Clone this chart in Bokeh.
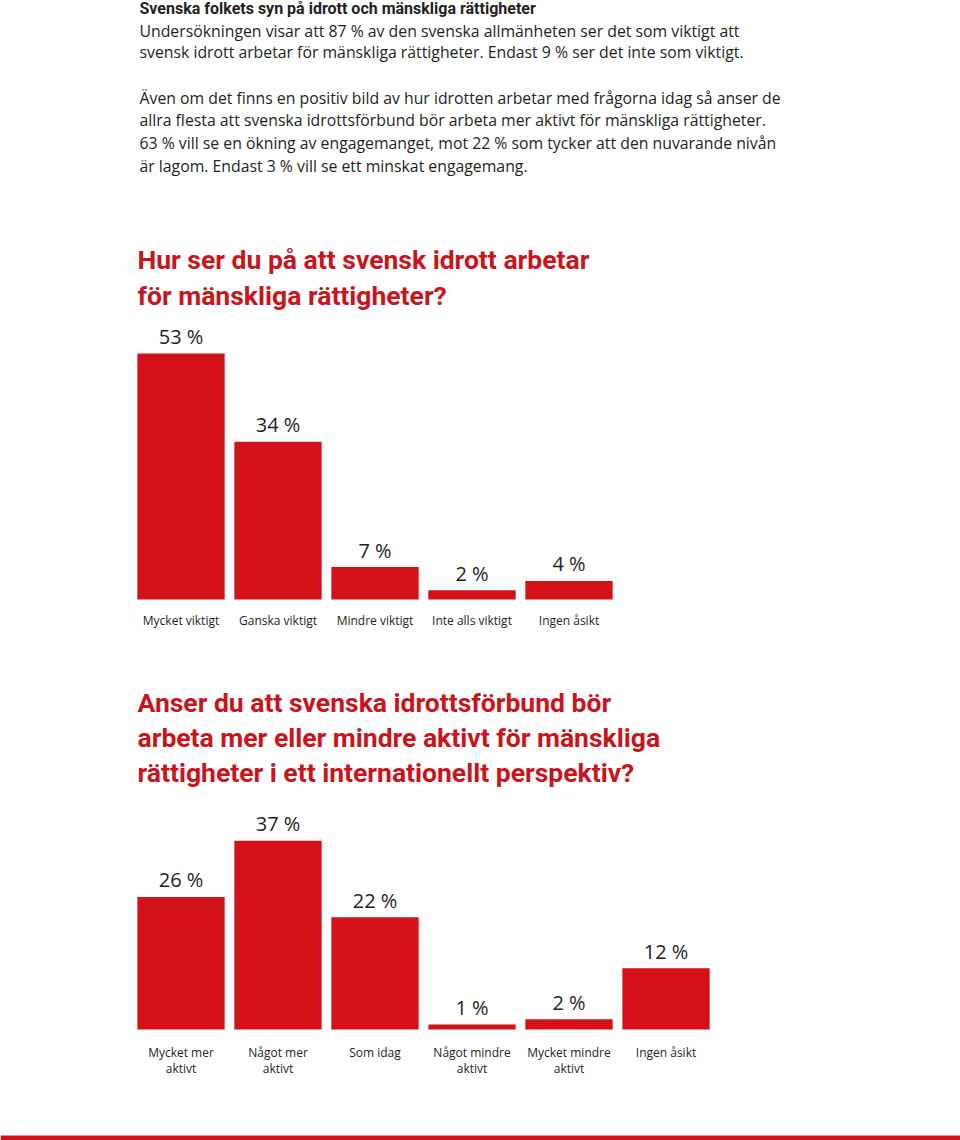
from bokeh.plotting import figure
from bokeh.models import Range1d
from bokeh.core.properties import value
from bokeh.embed import file_html
from bokeh.resources import INLINE

# ---------------- data ----------------
header_title = "Svenska folkets syn på idrott och mänskliga rättigheter"
para1 = [
    "Undersökningen visar att 87 % av den svenska allmänheten ser det som viktigt att",
    "svensk idrott arbetar för mänskliga rättigheter. Endast 9 % ser det inte som viktigt.",
]
para2 = [
    "Även om det finns en positiv bild av hur idrotten arbetar med frågorna idag så anser de",
    "allra flesta att svenska idrottsförbund bör arbeta mer aktivt för mänskliga rättigheter.",
    "63 % vill se en ökning av engagemanget, mot 22 % som tycker att den nuvarande nivån",
    "är lagom. Endast 3 % vill se ett minskat engagemang.",
]

q1_title = ["Hur ser du på att svensk idrott arbetar", "för mänskliga rättigheter?"]
q1_categories = ["Mycket viktigt", "Ganska viktigt", "Mindre viktigt", "Inte alls viktigt", "Ingen åsikt"]
q1_values = [53, 34, 7, 2, 4]

q2_title = ["Anser du att svenska idrottsförbund bör",
            "arbeta mer eller mindre aktivt för mänskliga",
            "rättigheter i ett internationellt perspektiv?"]
q2_categories = ["Mycket mer\naktivt", "Något mer\naktivt", "Som idag",
                 "Något mindre\naktivt", "Mycket mindre\naktivt", "Ingen åsikt"]
q2_values = [26, 37, 22, 1, 2, 12]

# ---------------- styling ----------------
RED = "#d31118"
TITLE_RED = "#c9141c"
INK = "#231f20"
FONT = value("Open Sans")
BOLD_FONT = value("Roboto")

W, H = 960, 1140
# page coordinates for text layout: x 0..960, y 0..1140 (downwards)
p = figure(width=W, height=H, output_backend="svg", toolbar_location=None,
           x_range=Range1d(0, W), y_range=Range1d(H, 0),
           x_axis_location=None, y_axis_location=None,
           min_border=0, outline_line_color=None, title=None)
p.grid.visible = False

# category index range (97 px per category, first bar centred at x=180.5)
idx_start = -180.5 / 97.0
p.extra_x_ranges = {"idx": Range1d(idx_start, idx_start + W / 97.0)}
# value ranges for the two charts (percent)
s1, base1 = 4.64, 599
s2, base2 = 5.1, 1029
p.extra_y_ranges = {
    "c1": Range1d(-(H - base1) / s1, base1 / s1),
    "c2": Range1d(-(H - base2) / s2, base2 / s2),
}

# ---------------- header text ----------------
p.text(x=[139], y=[8], text=[header_title], text_font=BOLD_FONT, text_font_style="bold",
       text_font_size="16px", text_color=INK, text_baseline="alphabetic")
p.text(x=[139] * len(para1), y=[30, 51.5], text=para1, text_font=FONT,
       text_font_size="15.8px", text_color=INK, text_baseline="alphabetic")
p.text(x=[139] * len(para2), y=[97, 119.5, 142, 165], text=para2, text_font=FONT,
       text_font_size="15.8px", text_color=INK, text_baseline="alphabetic")

# ---------------- chart 1 ----------------
p.text(x=[137] * 2, y=[259, 295], text=q1_title, text_font=BOLD_FONT, text_font_style="bold",
       text_font_size="26.5px", text_color=TITLE_RED, text_baseline="alphabetic")
x1 = list(range(len(q1_values)))
p.vbar(x=x1, top=q1_values, bottom=0, width=0.9, fill_color=RED, line_color=None,
       x_range_name="idx", y_range_name="c1")
p.text(x=x1, y=q1_values, text=[f"{v} %" for v in q1_values], text_font=FONT,
       text_font_size="20px", text_color=INK, text_align="center", text_baseline="alphabetic",
       y_offset=-17, x_range_name="idx", y_range_name="c1")
p.text(x=x1, y=[0] * len(x1), text=q1_categories, text_font=FONT, text_font_size="12px",
       text_color=INK, text_align="center", text_baseline="middle", y_offset=21,
       x_range_name="idx", y_range_name="c1")

# ---------------- chart 2 ----------------
p.text(x=[137] * 3, y=[702, 737, 772], text=q2_title, text_font=BOLD_FONT, text_font_style="bold",
       text_font_size="26.5px", text_color=TITLE_RED, text_baseline="alphabetic")
x2 = list(range(len(q2_values)))
p.vbar(x=x2, top=q2_values, bottom=0, width=0.9, fill_color=RED, line_color=None,
       x_range_name="idx", y_range_name="c2")
p.text(x=x2, y=q2_values, text=[f"{v} %" for v in q2_values], text_font=FONT,
       text_font_size="20px", text_color=INK, text_align="center", text_baseline="alphabetic",
       y_offset=-17, x_range_name="idx", y_range_name="c2")
p.text(x=x2, y=[0] * len(x2), text=q2_categories, text_font=FONT, text_font_size="12px",
       text_color=INK, text_align="center", text_baseline="top", y_offset=14,
       text_line_height=0.95, x_range_name="idx", y_range_name="c2")

# ---------------- bottom band ----------------
p.quad(left=[0], right=[W], top=[1135], bottom=[1140], fill_color=RED, line_color=None)

open("out.html", "w").write(file_html(p, INLINE))
